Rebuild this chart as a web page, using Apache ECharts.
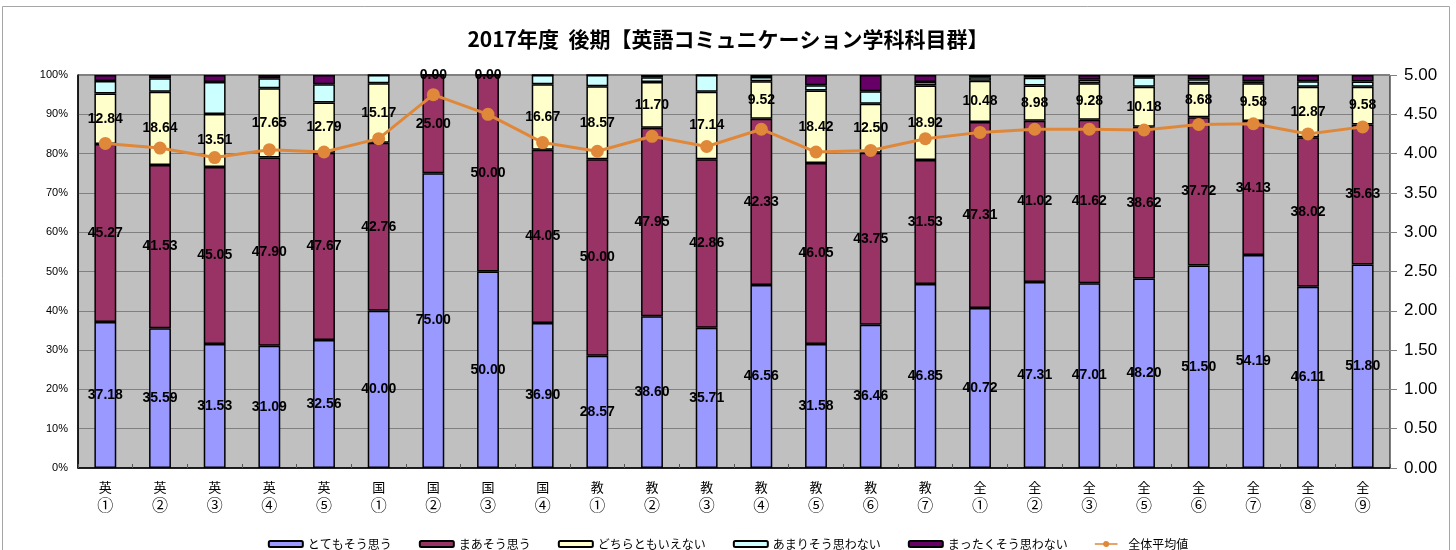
<!DOCTYPE html>
<html>
<head>
<meta charset="utf-8">
<script src="https://cdn.jsdelivr.net/npm/echarts@6/dist/echarts.min.js"></script>
<style>
html, body { margin: 0; padding: 0; background: #fff; }
#chart { width: 1456px; height: 550px; }
</style>
</head>
<body>
<div id="chart"></div>
<script>
var categories = ['英\n①', '英\n②', '英\n③', '英\n④', '英\n⑤', '国\n①', '国\n②', '国\n③', '国\n④',
    '教\n①', '教\n②', '教\n③', '教\n④', '教\n⑤', '教\n⑥', '教\n⑦',
    '全\n①', '全\n②', '全\n③', '全\n⑤', '全\n⑥', '全\n⑦', '全\n⑧', '全\n⑨']

var strongAgree = [37.18, 35.59, 31.53, 31.09, 32.56, 40.00, 75.00, 50.00, 36.90, 28.57, 38.60, 35.71,
    46.56, 31.58, 36.46, 46.85, 40.72, 47.31, 47.01, 48.20, 51.50, 54.19, 46.11, 51.80]
var agree = [45.27, 41.53, 45.05, 47.90, 47.67, 42.76, 25.00, 50.00, 44.05, 50.00, 47.95, 42.86,
    42.33, 46.05, 43.75, 31.53, 47.31, 41.02, 41.62, 38.62, 37.72, 34.13, 38.02, 35.63]
var neutral = [12.84, 18.64, 13.51, 17.65, 12.79, 15.17, 0.00, 0.00, 16.67, 18.57, 11.70, 17.14,
    9.52, 18.42, 12.50, 18.92, 10.48, 8.98, 9.28, 10.18, 8.68, 9.58, 12.87, 9.58]
var disagree = [3.21, 3.39, 8.11, 2.52, 4.65, 2.07, 0, 0, 2.38, 2.86, 1.17, 4.29,
    1.06, 1.32, 3.13, 0.90, 0.90, 1.99, 0.89, 2.40, 1.00, 0.50, 1.40, 1.34]
var strongDisagree = [1.50, 0.85, 1.80, 0.84, 2.33, 0, 0, 0, 0, 0, 0.58, 0,
    0.53, 2.63, 4.17, 1.80, 0.60, 0.70, 1.20, 0.60, 1.10, 1.60, 1.60, 1.65]
var average = [4.13, 4.07, 3.95, 4.05, 4.02, 4.19, 4.75, 4.50, 4.14, 4.03, 4.22, 4.09,
    4.31, 4.02, 4.04, 4.19, 4.27, 4.31, 4.31, 4.30, 4.37, 4.38, 4.25, 4.34]

var chart = echarts.init(document.getElementById('chart'))

function barSeries(name, data, color, showLabel) {
    return {
        name: name,
        type: 'bar',
        stack: 'total',
        barWidth: '40%',
        data: data,
        itemStyle: { color: color, borderColor: '#000', borderWidth: 1.5 },
        label: {
            show: showLabel,
            position: 'inside',
            formatter: function (p) { return p.value.toFixed(2) },
            color: '#000',
            fontSize: 14,
            fontWeight: 'bold',
            fontFamily: 'Liberation Sans'
        },
        emphasis: { disabled: true }
    }
}

var option = {
    animation: false,
    textStyle: { fontFamily: 'Noto Sans CJK JP' },
    title: {
        text: '2017年度  後期【英語コミュニケーション学科科目群】',
        left: 'center',
        top: 24,
        textStyle: { fontSize: 21, fontWeight: 'bold', color: '#000', fontFamily: 'Noto Sans CJK JP' }
    },
    graphic: [{
        type: 'rect',
        shape: { x: 2.5, y: 6.5, width: 1447, height: 600 },
        style: { fill: 'none', stroke: '#a6a6a6', lineWidth: 1 },
        silent: true
    }],
    legend: {
        top: 533,
        left: 'center',
        itemWidth: 34,
        itemHeight: 6,
        itemGap: 27,
        textStyle: { fontSize: 12, color: '#000', fontFamily: 'Noto Sans CJK JP' },
        data: ['とてもそう思う', 'まあそう思う', 'どちらともいえない', 'あまりそう思わない', 'まったくそう思わない',
            { name: '全体平均値', itemHeight: 10, icon: 'path://M0,3.8 L12.3,3.8 A5,5 0 0 1 21.7,3.8 L34,3.8 L34,6.2 L21.7,6.2 A5,5 0 0 1 12.3,6.2 L0,6.2 Z' }]
    },
    grid: {
        left: 78,
        right: 66,
        top: 75,
        bottom: 82,
        show: true,
        backgroundColor: '#C0C0C0',
        borderColor: '#000',
        borderWidth: 1
    },
    xAxis: {
        type: 'category',
        data: categories,
        axisLine: { lineStyle: { color: '#000', width: 1.5 } },
        axisTick: { show: true, inside: true, length: 4, lineStyle: { color: '#555' } },
        axisLabel: {
            interval: 0,
            margin: 10,
            color: '#000',
            formatter: function (v) {
                var parts = v.split('\n')
                return '{g|' + parts[0] + '}\n{n|' + parts[1] + '}'
            },
            rich: {
                g: { fontSize: 13, lineHeight: 18, color: '#000' },
                n: { fontSize: 16, lineHeight: 18, color: '#000' }
            }
        }
    },
    yAxis: [{
        type: 'value',
        min: 0,
        max: 100,
        interval: 10,
        axisLine: { show: true, lineStyle: { color: '#000', width: 1.5 } },
        axisTick: { show: false },
        axisLabel: { formatter: '{value}%', fontSize: 11, color: '#000', fontFamily: 'Liberation Sans', margin: 10 },
        splitLine: { lineStyle: { color: '#808080' } }
    }, {
        type: 'value',
        min: 0,
        max: 5,
        interval: 0.5,
        position: 'right',
        axisLine: { show: false },
        axisTick: { show: true, length: 7, lineStyle: { color: '#808080' } },
        axisLabel: {
            formatter: function (v) { return v.toFixed(2) },
            fontSize: 17,
            color: '#000',
            fontFamily: 'Liberation Sans',
            margin: 14
        },
        splitLine: { show: false }
    }],
    series: [
        barSeries('とてもそう思う', strongAgree, '#9999FF', true),
        barSeries('まあそう思う', agree, '#993366', true),
        barSeries('どちらともいえない', neutral, '#FFFFCC', true),
        barSeries('あまりそう思わない', disagree, '#CCFFFF', false),
        barSeries('まったくそう思わない', strongDisagree, '#660066', false),
        {
            name: '全体平均値',
            type: 'line',
            yAxisIndex: 1,
            data: average,
            symbol: 'circle',
            symbolSize: 13,
            z: 5,
            itemStyle: { color: '#E0883A' },
            lineStyle: { color: '#E0883A', width: 3 },
            emphasis: { disabled: true }
        }
    ]
}

chart.setOption(option)
</script>
</body>
</html>
